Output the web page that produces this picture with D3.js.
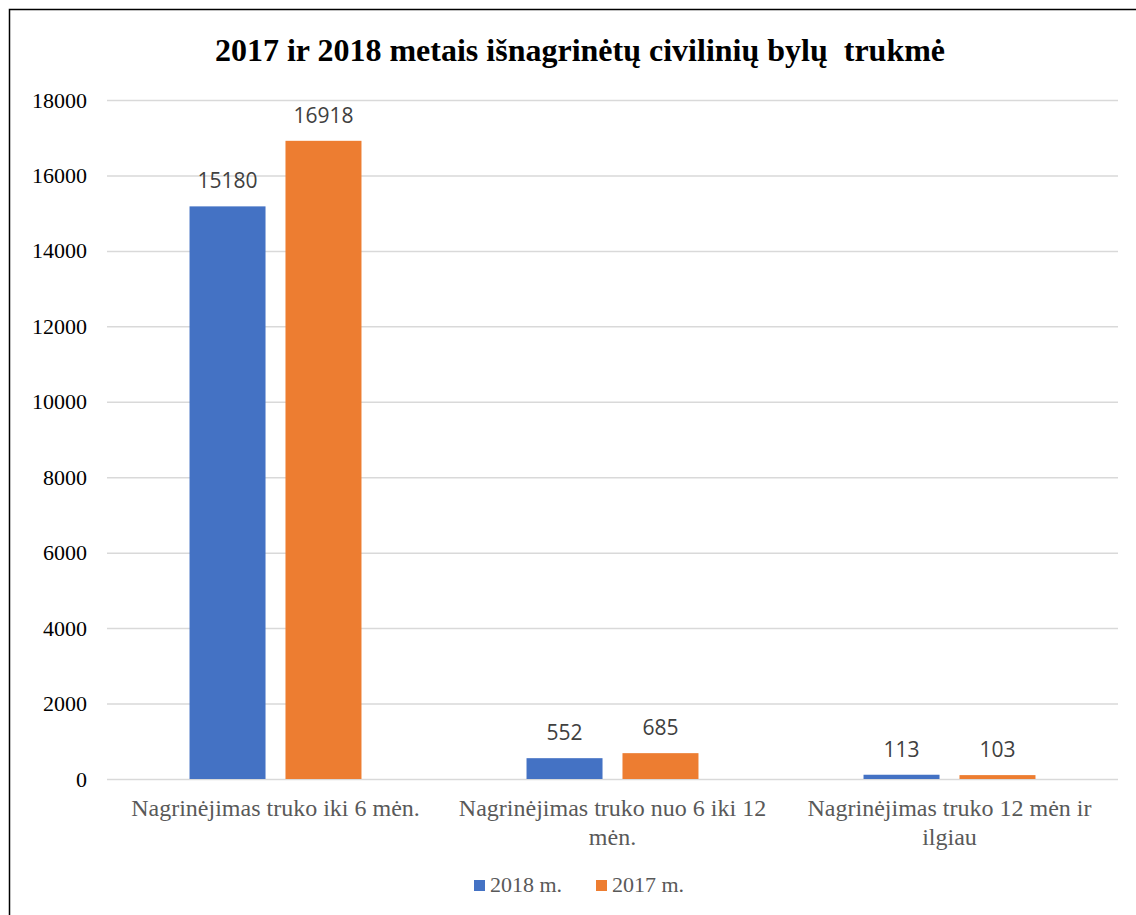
<!DOCTYPE html>
<html><head><meta charset="utf-8">
<script src="https://cdn.jsdelivr.net/npm/d3@7"></script>
<style>body{margin:0;background:#fff}</style>
</head><body>
<svg id="c" width="1136" height="915"></svg>
<script>
const categories = [
  ["Nagrinėjimas truko iki 6 mėn."],
  ["Nagrinėjimas truko nuo 6 iki 12", "mėn."],
  ["Nagrinėjimas truko 12 mėn ir", "ilgiau"]
];
const seriesNames = ["2018 m.", "2017 m."];
const values2018 = [15180, 552, 113];
const values2017 = [16918, 685, 103];
const yTicks = [0, 2000, 4000, 6000, 8000, 10000, 12000, 14000, 16000, 18000];
const colors = ["#4472C4", "#ED7D31"];
const title = "2017 ir 2018 metais išnagrinėtų civilinių bylų  trukmė";

const serif = "Liberation Serif, Times New Roman, serif";
const svg = d3.select("#c");
svg.append("rect").attr("x", 9.5).attr("y", 9.5).attr("width", 1140).attr("height", 920)
  .attr("fill", "none").attr("stroke", "#000").attr("stroke-width", 1.5);

const mLeft = 107, mRight = 1118, mTop = 100, mBottom = 779;
const x0 = d3.scaleBand().domain(d3.range(categories.length)).range([mLeft, mRight]);
const x1 = d3.scaleBand().domain([0, 1]).range([0, x0.bandwidth()]).paddingInner(0.208).paddingOuter(0.86);
const y = d3.scaleLinear().domain([0, 18000]).range([mBottom, mTop]);

const yAxis = d3.axisLeft(y).tickValues(yTicks).tickSize(-(mRight - mLeft)).tickFormat(d3.format("d"));
const g = svg.append("g").attr("transform", `translate(${mLeft},0)`).call(yAxis)
  .attr("font-family", serif).attr("font-size", 22);
g.select(".domain").remove();
g.selectAll(".tick line").attr("stroke", "#D9D9D9").attr("stroke-width", 1.5);
g.selectAll(".tick text").attr("x", -20).attr("fill", "#000")
  .attr("font-family", serif).attr("font-size", 22);

svg.append("text").attr("x", 580).attr("y", 61).attr("text-anchor", "middle")
  .attr("font-family", serif).attr("font-weight", "bold").attr("font-size", 32)
  .style("white-space", "pre")
  .text(title);

const series = [values2018, values2017];
series.forEach((vals, si) => {
  const grp = svg.append("g");
  grp.selectAll("rect").data(vals).join("rect")
    .attr("x", (d, i) => x0(i) + x1(si))
    .attr("width", x1.bandwidth())
    .attr("y", d => y(d))
    .attr("height", d => y(0) - y(d))
    .attr("fill", colors[si]);
  grp.selectAll("text").data(vals).join("text")
    .attr("x", (d, i) => x0(i) + x1(si) + x1.bandwidth() / 2)
    .attr("y", d => y(d) - 18)
    .attr("text-anchor", "middle")
    .attr("fill", "#404040")
    .attr("font-family", "Open Sans, sans-serif").attr("font-size", 21)
    .text(d => d);
});

categories.forEach((lines, i) => {
  const t = svg.append("text").attr("text-anchor", "middle").attr("fill", "#595959")
    .attr("font-family", serif).attr("font-size", 24);
  lines.forEach((l, li) => {
    t.append("tspan").attr("x", x0(i) + x0.bandwidth() / 2).attr("y", 816 + li * 29).text(l);
  });
});

const legX = [474, 596];
seriesNames.forEach((n, i) => {
  svg.append("rect").attr("x", legX[i]).attr("y", 880).attr("width", 11).attr("height", 11).attr("fill", colors[i]);
  svg.append("text").attr("x", legX[i] + 16).attr("y", 892).attr("fill", "#595959")
    .attr("font-family", serif).attr("font-size", 22).text(n);
});
</script>
</body></html>
